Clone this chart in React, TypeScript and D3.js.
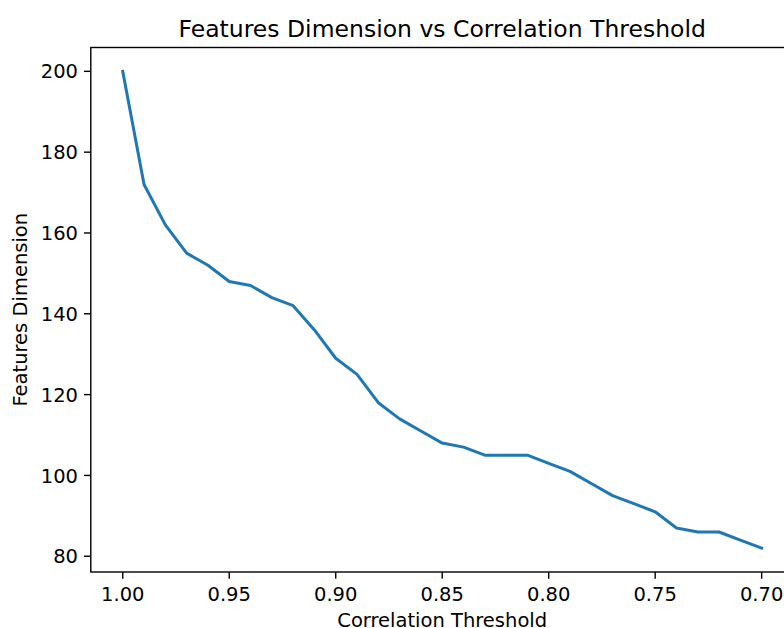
import React from "react";
import * as d3 from "d3";

const thresholds = [
  1.0, 0.99, 0.98, 0.97, 0.96, 0.95, 0.94, 0.93, 0.92, 0.91, 0.9, 0.89, 0.88, 0.87, 0.86, 0.85,
  0.84, 0.83, 0.82, 0.81, 0.8, 0.79, 0.78, 0.77, 0.76, 0.75, 0.74, 0.73, 0.72, 0.71, 0.7,
];
const dims = [
  200, 172, 162, 155, 152, 148, 147, 144, 142, 136, 129, 125, 118, 114, 111, 108,
  107, 105, 105, 105, 103, 101, 98, 95, 93, 91, 87, 86, 86, 84, 82,
];
const xTicks = [1.0, 0.95, 0.9, 0.85, 0.8, 0.75, 0.7];
const yTicks = [80, 100, 120, 140, 160, 180, 200];
const title = "Features Dimension vs Correlation Threshold";
const xLabel = "Correlation Threshold";
const yLabel = "Features Dimension";

export default function App() {
  const W = 784, H = 628;
  const left = 90.8, right = 793.6, top = 47.5, bottom = 572;
  const x = d3.scaleLinear().domain([1.015, 0.685]).range([left, right]);
  const y = d3.scaleLinear().domain([76.1, 205.9]).range([bottom, top]);
  const pts = thresholds.map((t, i) => [t, dims[i]] as [number, number]);
  const line = d3.line<[number, number]>().x((d) => x(d[0])).y((d) => y(d[1]));
  const font = "DejaVu Sans, sans-serif";
  const fs = 19.5;
  return (
    <svg width={W} height={H} style={{ position: "fixed", left: 0, top: 0, background: "#fff" }} fontFamily={font}>
      <rect x={0} y={0} width={W} height={H} fill="#fff" />
      <path d={line(pts) || ""} fill="none" stroke="#1f77b4" strokeWidth={3} strokeLinejoin="round" strokeLinecap="square" />
      {/* spines */}
      <rect x={left} y={top} width={right - left} height={bottom - top} fill="none" stroke="#000" strokeWidth={1.4} />
      {xTicks.map((t) => (
        <g key={"x" + t}>
          <line x1={x(t)} x2={x(t)} y1={bottom} y2={bottom + 6.8} stroke="#000" strokeWidth={1.4} />
          <text x={x(t)} y={601} textAnchor="middle" fontSize={fs} fill="#000">
            {t.toFixed(2)}
          </text>
        </g>
      ))}
      {yTicks.map((t) => (
        <g key={"y" + t}>
          <line x1={left} x2={left - 6.8} y1={y(t)} y2={y(t)} stroke="#000" strokeWidth={1.4} />
          <text x={78} y={y(t) + 7.1} textAnchor="end" fontSize={fs} fill="#000">
            {t}
          </text>
        </g>
      ))}
      <text x={(left + right) / 2} y={627} textAnchor="middle" fontSize={fs} fill="#000">
        {xLabel}
      </text>
      <text transform={`translate(27,${(top + bottom) / 2}) rotate(-90)`} textAnchor="middle" fontSize={fs} fill="#000">
        {yLabel}
      </text>
      <text x={(left + right) / 2} y={36.5} textAnchor="middle" fontSize={23.5} fill="#000">
        {title}
      </text>
    </svg>
  );
}
